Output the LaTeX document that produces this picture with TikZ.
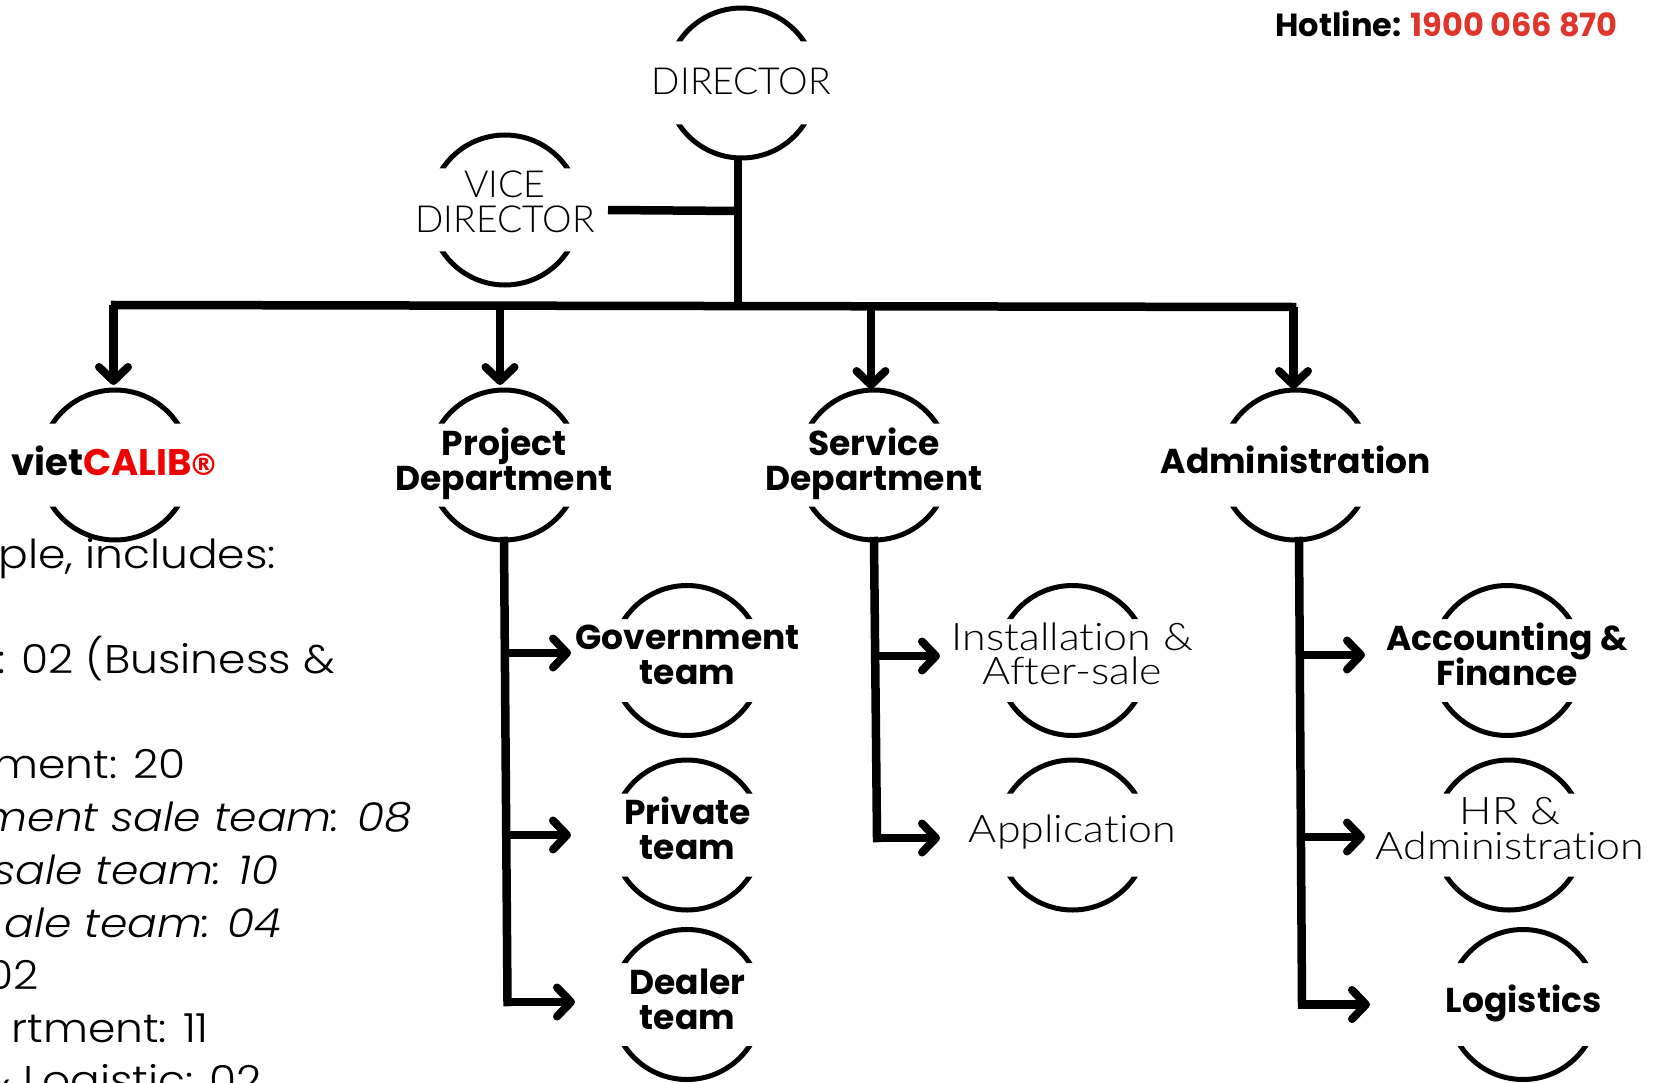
\documentclass[tikz,border=0pt]{standalone}
\usepackage{fontspec}
\usetikzlibrary{arrows.meta,calc}
\setmainfont{Poppins}
\lineskiplimit=-30pt
\newfontfamily\capsf{Lato Light}
\newfontfamily\lightf[FakeStretch=1.13,RawFeature={-liga}]{Lato Light}
\newfontfamily\bodyf[FakeStretch=1.1,RawFeature={-liga},ItalicFont={Poppins Light Italic},ItalicFeatures={FakeStretch=1.1}]{Poppins Light}
\newfontfamily\boldf[RawFeature={-liga}]{Poppins Bold}
\newfontfamily\regf{DejaVu Sans Bold}
\definecolor{hotred}{HTML}{E0352B}
\definecolor{brandred}{HTML}{F00000}
\tikzset{
  x=1pt,y=-1pt,
  ringnode/.style={circle,minimum size=153pt,inner sep=0pt,draw=none},
  ringline/.style={line width=5pt,black},
  bar/.style={line width=8.5pt,black},
  arr/.style={line width=8.5pt,black,-{Straight Barb[length=14pt,width=29pt,line width=8pt,round]}},
  capslbl/.style={align=center,font=\capsf\fontsize{37.3}{34.5}\selectfont,inner sep=0pt},
  lightlbl/.style={align=center,font=\lightf\fontsize{38}{34.5}\selectfont,inner sep=0pt},
  boldlbl/.style={align=center,font=\boldf\fontsize{34.5}{35}\selectfont,inner sep=0pt},
  bodytxt/.style={anchor=base east,font=\bodyf\fontsize{40}{48}\selectfont,inner sep=0pt},
  bodyit/.style={anchor=base east,font=\bodyf\itshape\fontsize{40}{48}\selectfont,inner sep=0pt},
}
\newcommand{\ringat}[3]{%
  \begin{scope}
    \clip (#2-90,#3-90) rectangle (#2+90,#3-41.5) (#2-90,#3+41.5) rectangle (#2+90,#3+90);
    \draw[ringline] (#2,#3) circle[radius=75pt];
  \end{scope}
  \node[ringnode] (#1) at (#2,#3) {};
}
\begin{document}
\begin{tikzpicture}
\useasboundingbox (0,0) rectangle (1665,1083);
\fill[white] (0,0) rectangle (1665,1083);
% left text, cut by the picture edge
\node[bodytxt] (b1) at (276,568) {ple, includes:};
\node[bodytxt] (b2) at (335,673) {: 02 (Business \&};
\node[bodytxt] (b3) at (186,778) {ment: 20};
\node[bodyit] (b4) at (412,831) {ment sale team: 08};
\node[bodyit] (b5) at (279,884) {sale team: 10};
\node[bodyit] (b6) at (282,937) {ale team: 04};
\node[bodytxt] (b7) at (39,989) {02};
\node[bodytxt] (b8) at (209,1042) {rtment: 11};
\node[bodytxt] (b9) at (262,1094) {\& Logistic: 02};
% rings
\ringat{dir}{741.5}{83}
\ringat{vice}{505}{210}
\ringat{viet}{115}{465}
\ringat{proj}{504}{465}
\ringat{serv}{874}{465}
\ringat{admin}{1295.5}{465}
\ringat{gov}{687}{660.5}
\ringat{inst}{1072.5}{660.5}
\ringat{acc}{1507}{660.5}
\ringat{priv}{687}{835}
\ringat{appl}{1072.5}{835}
\ringat{hr}{1509}{835}
\ringat{deal}{687}{1004.5}
\ringat{logi}{1523}{1004.5}
% bus
\coordinate (busL) at (115,305);
\coordinate (busR) at (1292,307);
\coordinate (busD) at (738,306);
\coordinate (busV) at (738,211);
\coordinate (viceEnd) at (608,210);
\draw[bar] (738,159) -- (busD);
\draw[bar] (viceEnd) -- (busV);
\draw[bar,line cap=rect] (busL) -- (busR);
\coordinate (b-viet) at (113.5,305);
\coordinate (b-proj) at (500,306);
\coordinate (b-serv) at (871,306);
\coordinate (b-admin) at (1293.5,307);
\draw[arr] (b-viet) -- (b-viet |- 0,385);
\draw[arr] (b-proj) -- (b-proj |- 0,385);
\draw[arr] (b-serv) -- (b-serv |- 0,389);
\draw[arr] (b-admin) -- (b-admin |- 0,389);
% stems
\coordinate (pEnd) at (507.5,1002);
\coordinate (sEnd) at (877,838);
\coordinate (aEnd) at (1302,1004.5);
\draw[bar,line cap=rect] (504,541) -- (pEnd);
\draw[bar,line cap=rect] (874,541) -- (sEnd);
\draw[bar,line cap=rect] (1299,541) -- (aEnd);
\draw[arr] (506,653) -- (571,653);
\draw[arr] (507,835) -- (571,835);
\draw[arr] (pEnd) -- (575,1002);
\draw[arr] (876,656) -- (940,656);
\draw[arr] (sEnd) -- (940,838);
\draw[arr] (1301,655) -- (1365,655);
\draw[arr] (1302,837) -- (1365,837);
\draw[arr] (aEnd) -- (1370,1004.5);
% labels
\node[capslbl] (tdir) at (741.5,81) {DIRECTOR};
\node[capslbl] (tvice) at (505,202) {VICE\\DIRECTOR};
\node[boldlbl] (tviet) at (115,461) {\fontsize{37}{35}\selectfont viet\textcolor{brandred}{CALIB\kern-3pt{\regf\fontsize{30}{35}\selectfont ®}}};
\node[boldlbl] (tproj) at (504,463.5) {Project\\Department};
\node[boldlbl] (tserv) at (874,463.5) {Service\\Department};
\node[boldlbl] (tadmin) at (1295.5,460) {Administration};
\node[boldlbl] (tgov) at (687.5,655) {Government\\team};
\node[lightlbl] (tinst) at (1072.5,654) {Installation \&\\After-sale};
\node[boldlbl] (tacc) at (1507,654) {Accounting \&\\Finance};
\node[boldlbl] (tpriv) at (687.5,828) {Private\\team};
\node[lightlbl] (tappl) at (1072.5,832) {Application};
\node[lightlbl] (thr) at (1510,828.5) {HR \&\\Administration};
\node[boldlbl] (tdeal) at (687.5,999) {Dealer\\team};
\node[boldlbl] (tlogi) at (1523.5,1003) {Logistics};
\node[anchor=base east,inner sep=0pt,font=\boldf\fontsize{32}{36}\selectfont] (hot) at (1618,37) {Hotline: \textcolor{hotred}{1900 066 870}};
\end{tikzpicture}
\end{document}
